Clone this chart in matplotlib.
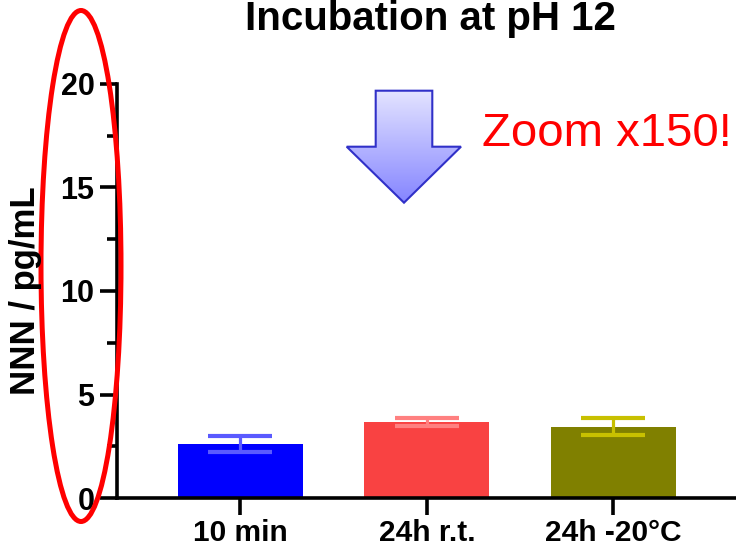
import matplotlib
matplotlib.use('Agg')
import matplotlib.pyplot as plt
import numpy as np
from matplotlib.patches import Polygon, Ellipse

plt.rcParams['font.family'] = ['Liberation Sans', 'DejaVu Sans']

groups = ['10 min', '24h r.t.', '24h -20°C']
means = [2.61, 3.68, 3.44]
errors = [0.37, 0.20, 0.41]
bar_colors = ['#0000FF', '#F94242', '#808000']
err_colors = ['#5A5AFF', '#FF8080', '#C8C000']

W, H = 736, 554
fig = plt.figure(figsize=(W / 100, H / 100), dpi=100)
ax = fig.add_axes([116.7 / W, 1 - 498 / H, 1 - 116.7 / W, (498 - 84) / H])

x = np.arange(len(groups))
ax.bar(x, means, width=0.67, color=bar_colors, zorder=2)
for xi, m, e, c in zip(x, means, errors, err_colors):
    ax.errorbar(xi, m, yerr=e, fmt='none', ecolor=c, elinewidth=2.3,
                capsize=23, capthick=3, zorder=3)

ax.set_xlim(-0.663, 2.658)
ax.set_ylim(0, 20)
ax.set_yticks([0, 5, 10, 15, 20])
ax.set_yticks([2.5, 7.5, 12.5, 17.5], minor=True)
ax.set_xticks(x)
ax.set_xticklabels(groups, fontsize=21.5, fontweight='bold')
for lbl in ax.get_yticklabels():
    lbl.set_fontsize(22)
    lbl.set_fontweight('bold')

for s in ['top', 'right']:
    ax.spines[s].set_visible(False)
for s in ['left', 'bottom']:
    ax.spines[s].set_linewidth(2.6)
ax.tick_params(axis='y', which='major', length=12, width=2.6, pad=4)
ax.tick_params(axis='y', which='minor', length=7, width=2.6)
ax.tick_params(axis='x', which='major', length=12, width=2.6, pad=3)

fig.text(430 / W, 1 - 30 / H, 'Incubation at pH 12', fontsize=29,
         fontweight='bold', ha='center', va='baseline')
fig.text(26 / W, 1 - 291 / H, 'NNN / pg/mL', fontsize=25, fontweight='bold',
         rotation=90, ha='center', va='center')

# annotation layer in pixel coordinates
ov = fig.add_axes([0, 0, 1, 1])
ov.axis('off')
ov.patch.set_alpha(0)

arrow_pts = [(375.7, 90.7), (432.3, 90.7), (432.3, 146.7), (461, 146.7),
             (404, 202.7), (346.7, 146.7), (375.7, 146.7)]
arrow = Polygon(arrow_pts, closed=True, facecolor='none',
                edgecolor='#3030C8', linewidth=1.5, zorder=3)
ov.add_patch(arrow)
grad = np.linspace(0, 1, 256).reshape(-1, 1)
top_c = np.array([0.89, 0.89, 1.0])
bot_c = np.array([0.52, 0.52, 1.0])
img = top_c + (bot_c - top_c) * grad[..., None]
im = ov.imshow(img, extent=(346.7, 461, 202.7, 90.7), aspect='auto', zorder=2)
im.set_clip_path(Polygon(arrow_pts, closed=True, transform=ov.transData))
ov.set_xlim(0, W)
ov.set_ylim(H, 0)

ov.text(481.7, 146, 'Zoom x150!', color='#FF0000', fontsize=34,
        ha='left', va='baseline')

ov.add_patch(Ellipse((81, 266), 80, 511, facecolor='none',
                     edgecolor='#FF0000', linewidth=3.6))

fig.savefig('out.png', dpi=100)
